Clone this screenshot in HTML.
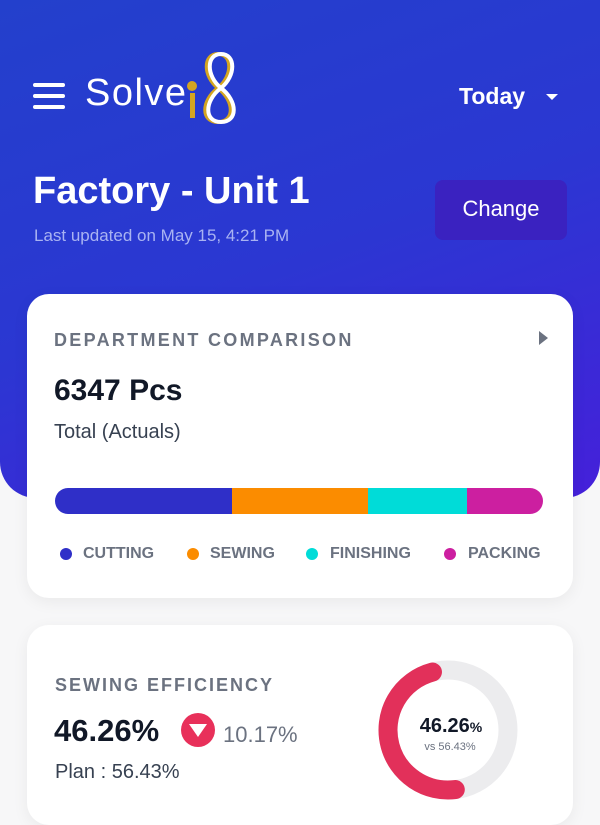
<!DOCTYPE html>
<html><head><meta charset="utf-8"><style>
*{margin:0;padding:0;box-sizing:border-box}
body{width:600px;height:800px;overflow:hidden;background:#f7f7f8;font-family:"Liberation Sans",sans-serif;position:relative}
.hdr{position:absolute;left:0;top:0;width:600px;height:498px;background:linear-gradient(160deg,#2340cc 0%,#2b37d2 50%,#4520da 100%);border-radius:0 0 36px 36px}
.abs{position:absolute}
.card{position:absolute;left:27px;width:546px;background:#fff;border-radius:22px;box-shadow:0 4px 16px rgba(0,0,0,0.06)}
</style></head><body>
<div class="hdr"></div>
<div class="abs" style="left:33px;top:83px;width:32px;height:4px;background:#fff;border-radius:2px"></div>
<div class="abs" style="left:33px;top:94px;width:32px;height:4px;background:#fff;border-radius:2px"></div>
<div class="abs" style="left:33px;top:105px;width:32px;height:4px;background:#fff;border-radius:2px"></div>
<div class="abs" style="left:85px;top:72px;color:#fff;font-family:'Liberation Sans',sans-serif;font-size:38px;letter-spacing:1.5px">Solve</div>
<div class="abs" style="left:190px;top:93px;width:5px;height:25px;background:#d4a520"></div>
<div class="abs" style="left:187px;top:81px;width:10px;height:10px;background:#d4a520;border-radius:50%"></div>
<svg class="abs" style="left:198px;top:50px" width="48" height="76"><path d="M22 38 C7 26 7 4 22 4 C37 4 37 26 22 38 C5 51 5 72 22 72 C39 72 39 51 22 38Z" fill="none" stroke="#d4a520" stroke-width="4" transform="translate(-2,0)"/><path d="M22 38 C7 26 7 4 22 4 C37 4 37 26 22 38 C5 51 5 72 22 72 C39 72 39 51 22 38Z" fill="none" stroke="#fff" stroke-width="4" transform="translate(1,0)"/></svg>
<div class="abs" style="left:459px;top:83px;color:#fff;font-size:23px;font-weight:bold">Today</div>
<div class="abs" style="left:546px;top:94px;width:0;height:0;border-left:6px solid transparent;border-right:6px solid transparent;border-top:6px solid #fff"></div>
<div class="abs" style="left:33px;top:170px;color:#fff;font-size:38px;font-weight:bold">Factory - Unit 1</div>
<div class="abs" style="left:34px;top:226px;color:#a9b3f2;font-size:17px">Last updated on May 15, 4:21 PM</div>
<div class="abs" style="left:435px;top:180px;width:132px;height:60px;background:#3a22c0;border-radius:8px;color:#fff;font-size:22px;text-align:center;line-height:58px">Change</div>

<div class="card" style="top:294px;height:304px">
<div class="abs" style="left:27px;top:36px;color:#6b7280;font-size:18px;letter-spacing:2.3px;font-weight:bold">DEPARTMENT COMPARISON</div>
<div class="abs" style="left:512px;top:37px;width:0;height:0;border-top:7px solid transparent;border-bottom:7px solid transparent;border-left:9px solid #6b7280"></div>
<div class="abs" style="left:27px;top:80px;color:#111827;font-size:30px;font-weight:bold">6347 Pcs</div>
<div class="abs" style="left:27px;top:127px;color:#374151;font-size:20px">Total (Actuals)</div>
<div class="abs" style="left:28px;top:194px;width:488px;height:26px;border-radius:13px;overflow:hidden;display:flex">
<div style="width:177px;background:#2f2fc8"></div><div style="width:136px;background:#fb8c00"></div><div style="width:99px;background:#00dcd8"></div><div style="flex:1;background:#cc1fa0"></div></div>
<div class="abs" style="left:27px;top:251px;width:520px;font-size:16px;color:#6b7280;font-weight:bold">
<span class="abs" style="left:6px;top:3px;width:12px;height:12px;border-radius:50%;background:#2f2fc8"></span><span class="abs" style="left:29px;top:0">CUTTING</span>
<span class="abs" style="left:133px;top:3px;width:12px;height:12px;border-radius:50%;background:#fb8c00"></span><span class="abs" style="left:156px;top:0">SEWING</span>
<span class="abs" style="left:252px;top:3px;width:12px;height:12px;border-radius:50%;background:#00dcd8"></span><span class="abs" style="left:276px;top:0">FINISHING</span>
<span class="abs" style="left:390px;top:3px;width:12px;height:12px;border-radius:50%;background:#cc1fa0"></span><span class="abs" style="left:414px;top:0">PACKING</span>
</div>
</div>

<div class="card" style="top:625px;height:200px">
<div class="abs" style="left:28px;top:50px;color:#6b7280;font-size:18px;letter-spacing:2px;font-weight:bold">SEWING EFFICIENCY</div>
<div class="abs" style="left:27px;top:88px;color:#111827;font-size:31px;font-weight:bold">46.26%</div>
<div class="abs" style="left:154px;top:88px;width:34px;height:34px;border-radius:50%;background:#e8305a"></div>
<div class="abs" style="left:162px;top:99px;width:0;height:0;border-left:9px solid transparent;border-right:9px solid transparent;border-top:13px solid #fff"></div>
<div class="abs" style="left:196px;top:97px;color:#6b7280;font-size:22px">10.17%</div>
<div class="abs" style="left:28px;top:136px;color:#374151;font-size:20px">Plan : 56.43%</div>
</div>
<svg class="abs" style="left:378px;top:660px" width="140" height="140">
<circle cx="70" cy="70" r="60" fill="none" stroke="#ececee" stroke-width="19"/>
<circle cx="70" cy="70" r="60" fill="none" stroke="#e2305a" stroke-width="19" stroke-linecap="round" stroke-dasharray="180 400" transform="rotate(-105 70 70) scale(1,-1) translate(0,-140)"/>
<text x="73" y="72" text-anchor="middle" font-family="Liberation Sans" font-size="20" font-weight="bold" fill="#111827">46.26<tspan font-size="14">%</tspan></text>
<text x="72" y="90" text-anchor="middle" font-family="Liberation Sans" font-size="11" fill="#6b7280">vs 56.43%</text>
</svg>
</body></html>
